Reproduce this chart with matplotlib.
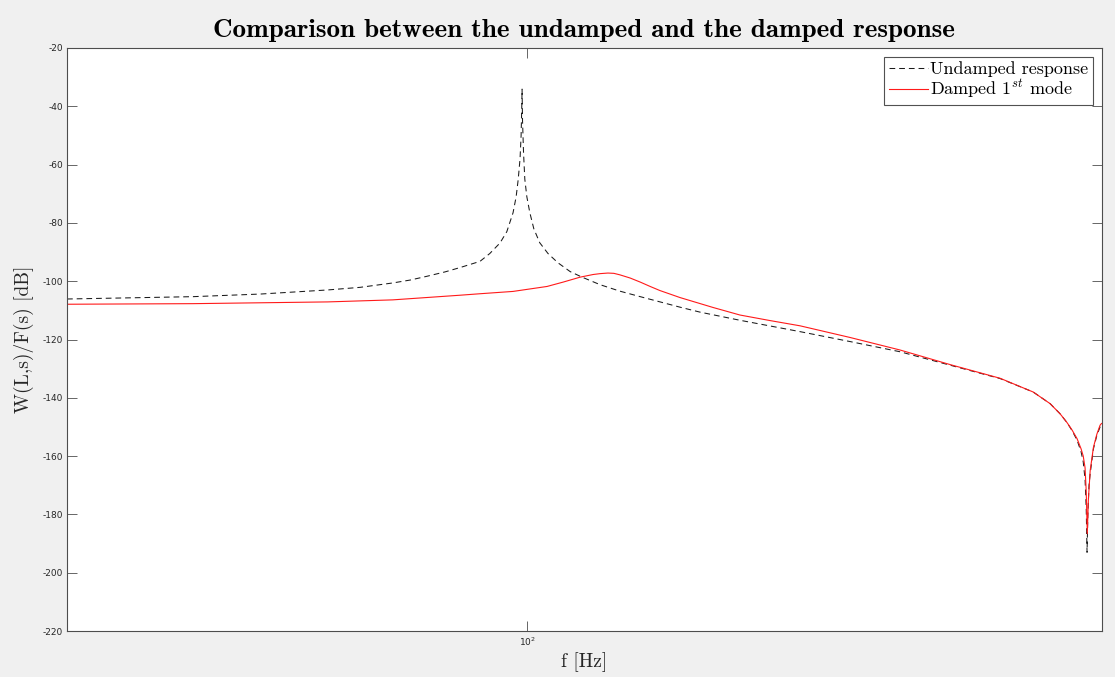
import matplotlib
matplotlib.use('Agg')
import matplotlib.pyplot as plt
from matplotlib.font_manager import FontProperties
from matplotlib.ticker import FixedLocator, NullLocator

# frequency response of the beam tip, undamped vs damped first mode
F_UND = [40.0, 51.4, 58.8, 67.2, 71.7, 76.5, 79.2, 81.9, 84.9, 87.5, 91.0,
         92.8, 94.7, 96.0, 97.2, 97.8, 98.2, 98.56, 98.77, 98.9, 98.96,
         99.05, 99.25, 99.5, 99.9, 100.5, 101.3, 102.5, 104.2, 106.3, 108.9,
         111.5, 115.6, 120.2, 125.2, 135.5, 141.0, 152.7, 172.1, 190.1,
         210.0, 232.0, 256.3, 273.7, 283.1, 288.8, 292.8, 295.7, 298.7,
         301.1, 302.4, 303.5, 304.2, 304.7, 305.2, 305.9, 306.6, 308.6,
         310.7, 312.7, 313.6]
DB_UND = [-106.1, -105.3, -104.4, -103.0, -102.1, -100.6, -99.6, -98.3,
          -96.8, -95.3, -93.2, -90.5, -86.9, -83.0, -76.5, -71.0, -65.1,
          -58.0, -50.0, -40.0, -34.1, -45.0, -56.0, -65.0, -71.0, -76.5,
          -82.0, -86.8, -90.5, -93.7, -96.7, -98.6, -101.2, -103.4, -105.3,
          -108.9, -110.6, -113.4, -117.3, -120.7, -124.2, -128.8, -133.4,
          -138.0, -142.0, -145.5, -148.5, -151.2, -154.5, -158.5, -162.0,
          -168.0, -178.0, -193.0, -180.0, -170.0, -166.0, -157.5, -152.9,
          -150.0, -149.3]

F_DMP = [40.0, 51.4, 67.2, 76.5, 87.5, 91.0, 97.2, 104.0, 107.4, 111.1,
         114.0, 115.6, 117.4, 118.8, 120.2, 122.7, 125.2, 127.7, 130.2,
         135.5, 144.7, 152.7, 162.1, 172.1, 190.1, 210.0, 232.0, 256.3,
         273.7, 283.1, 288.8, 292.8, 295.7, 298.7, 301.1, 302.4, 303.5,
         304.2, 304.85, 305.5, 306.6, 308.6, 310.7, 312.7, 313.6]
DB_DMP = [-107.9, -107.7, -107.1, -106.4, -104.8, -104.3, -103.5, -101.8,
          -100.3, -98.6, -97.7, -97.4, -97.2, -97.3, -97.8, -98.9, -100.3,
          -101.8, -103.2, -105.6, -109.0, -111.6, -113.5, -115.3, -119.3,
          -123.6, -128.6, -133.3, -138.0, -142.0, -145.5, -148.5, -151.0,
          -154.0, -157.5, -160.0, -164.0, -172.0, -186.6, -175.0, -165.0,
          -157.0, -152.5, -149.4, -148.8]

F_LIM = (40.0, 313.6)
DB_LIM = (-220, -20)
DB_TICKS = list(range(-220, 0, 20))

BG = '#f0f0f0'
AX_COL = '#4d4d4d'
TXT = '#262626'

fig = plt.figure(figsize=(11.15, 6.77), dpi=100, facecolor=BG)
ax = fig.add_axes([0.0601, 0.0679, 0.9278, 0.8612])
ax.set_facecolor('white')

und, = ax.semilogx(F_UND, DB_UND, color='#1a1a1a', lw=0.75, ls='--',
                   label='Undamped response')
und.set_dashes([5.5, 3.8])
ax.semilogx(F_DMP, DB_DMP, color='#ff1a1a', lw=0.8,
            label=r'Damped 1$^{st}$ mode')

ax.set_xlim(*F_LIM)
ax.set_ylim(*DB_LIM)
ax.xaxis.set_major_locator(FixedLocator([100]))
ax.xaxis.set_minor_locator(NullLocator())
ax.set_xticklabels(['10$^{2}$'])
ax.set_yticks(DB_TICKS)
ax.set_yticklabels([str(v) for v in DB_TICKS])

for s in ax.spines.values():
    s.set_color(AX_COL)
    s.set_linewidth(0.8)
ax.tick_params(which='both', direction='in', top=True, right=True,
               length=7, width=0.6, color=AX_COL, labelsize=6.5,
               labelcolor=TXT, pad=3)

ax.set_title('Comparison between the undamped and the damped response',
             fontsize=19.5, family='cmb10', pad=8)
ax.set_xlabel('f [Hz]', fontsize=14, family='cmr10', labelpad=3, color=TXT)
ax.set_ylabel('W(L,s)/F(s) [dB]', fontsize=14, family='cmr10',
              labelpad=6, color=TXT)

leg_font = FontProperties(family='cmr10', size=13, math_fontfamily='cm')
leg = ax.legend(loc='upper right', bbox_to_anchor=(0.9915, 0.985),
                prop=leg_font, frameon=True, fancybox=False,
                borderaxespad=0, handlelength=2.2, handletextpad=0.1,
                borderpad=0.25, labelspacing=0.05)
leg.get_frame().set_edgecolor(TXT)
leg.get_frame().set_linewidth(0.8)

fig.savefig('out.png', dpi=100, facecolor=BG)
